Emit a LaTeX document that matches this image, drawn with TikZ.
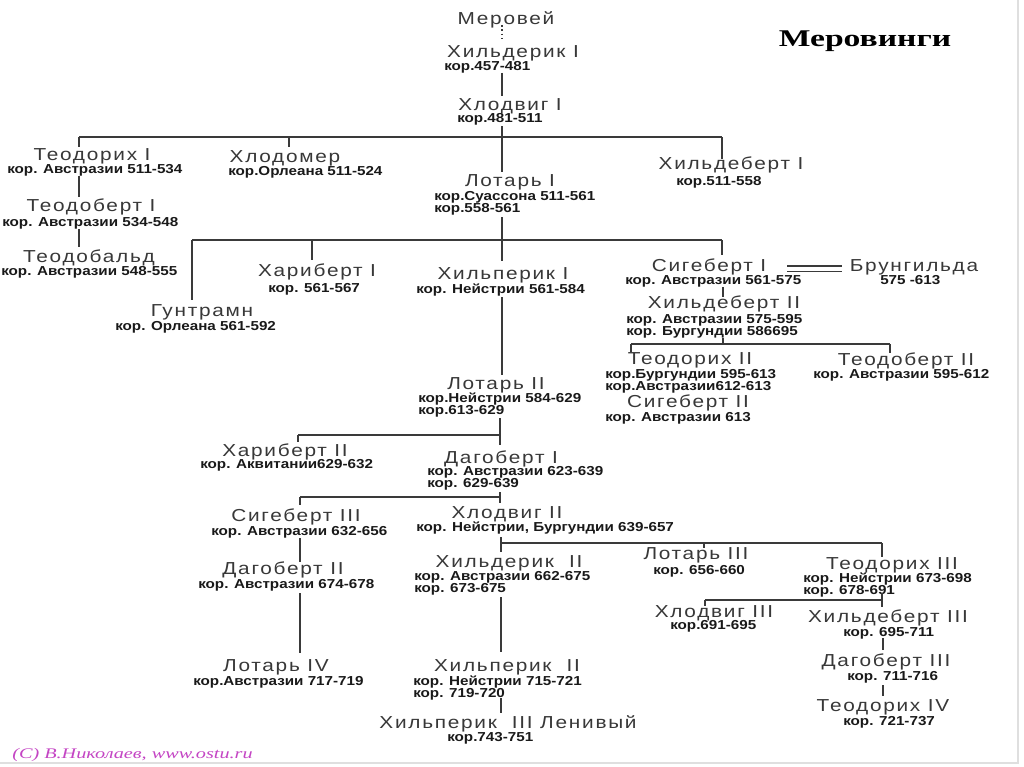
\documentclass[tikz,border=0pt]{standalone}
\usepackage{fontspec}
\setmainfont{Liberation Sans}
\newfontfamily\nmfont[FakeStretch=1.2,LetterSpace=10]{Liberation Sans}
\newfontfamily\smfont[FakeStretch=1.17]{Liberation Sans}
\newfontfamily\ttlfont[FakeStretch=1.4]{Liberation Serif}
\newfontfamily\crfont[FakeStretch=1.38]{Liberation Serif}
\definecolor{namecol}{HTML}{383838}
\definecolor{lncol}{HTML}{3A3A3A}
\definecolor{crcol}{HTML}{C445C4}
\tikzset{
  nm/.style={font=\nmfont\fontsize{13}{13}\selectfont, text=namecol, inner sep=0pt, text height=9.3pt, text depth=0pt},
  inf/.style={font=\smfont\bfseries\fontsize{9.75}{9}\selectfont, text=black!90, inner sep=0pt, align=left, anchor=north west},
  ln/.style={line width=1.4pt, draw=lncol},
  bar/.style={line width=1.15pt, draw=lncol},
  couple/.style={line width=0.8pt, draw=lncol}
}
\begin{document}
\begin{tikzpicture}[x=0.75pt,y=-0.75pt]
\useasboundingbox (0,0) rectangle (1024,767);
\fill[white] (0,0) rectangle (1024,767);
\draw[gray!25, line width=1pt] (1018,0) -- (1018,763) -- (0,763);

% title and credit
\node[font=\ttlfont\bfseries\fontsize{18}{18}\selectfont, inner sep=0pt] (title) at (865,41) {Меровинги};
\node[font=\crfont\itshape\fontsize{11}{11}\selectfont, text=crcol, inner sep=0pt, anchor=west] (credit) at (12,755) {(C) В.Николаев, www.ostu.ru};

% persons
\node[nm] (merovei) at (506,18) {Меровей};
\node[nm] (childeric1) at (513,51) {Хильдерик I};
\node[inf] (childeric1i) at (444,61) {кор.457-481};
\node[nm] (clovis1) at (510,104) {Хлодвиг I};
\node[inf] (clovis1i) at (457,113) {кор.481-511};

\node[nm] (theuderic1) at (92,154) {Теодорих I};
\node[inf] (theuderic1i) at (7,164) {кор. Австразии 511-534};
\node[nm] (chlodomer) at (285,156) {Хлодомер};
\node[inf] (chlodomeri) at (228,166) {кор.Орлеана 511-524};
\node[nm] (chlothar1) at (510,180) {Лотарь I};
\node[inf] (chlothar1i) at (434,191) {кор.Суассона 511-561\\кор.558-561};
\node[nm] (childebert1) at (731,163) {Хильдеберт I};
\node[inf] (childebert1i) at (676,176) {кор.511-558};

\node[nm] (theudebert1) at (91,205) {Теодоберт I};
\node[inf] (theudebert1i) at (2,217) {кор. Австразии 534-548};
\node[nm] (theudebald) at (89,256) {Теодобальд};
\node[inf] (theudebaldi) at (1,266) {кор. Австразии 548-555};

\node[nm] (guntram) at (202,310) {Гунтрамн};
\node[inf] (guntrami) at (115,321) {кор. Орлеана 561-592};
\node[nm] (charibert1) at (317,270) {Хариберт I};
\node[inf] (charibert1i) at (268,283) {кор. 561-567};
\node[nm] (chilperic1) at (503,273) {Хильперик I};
\node[inf] (chilperic1i) at (416,284) {кор. Нейстрии 561-584};
\node[nm] (sigebert1) at (709,265) {Сигеберт I};
\node[inf] (sigebert1i) at (625,275) {кор. Австразии 561-575};
\node[nm] (brunhilda) at (914,265) {Брунгильда};
\node[inf] (brunhildai) at (880,275) {575 -613};

\node[nm] (childebert2) at (724,302) {Хильдеберт II};
\node[inf] (childebert2i) at (626,314) {кор. Австразии 575-595\\кор. Бургундии 586695};
\node[nm] (theuderic2) at (690,358) {Теодорих II};
\node[inf] (theuderic2i) at (605,369) {кор.Бургундии 595-613\\кор.Австразии612-613};
\node[nm] (sigebert2) at (688,401) {Сигеберт II};
\node[inf] (sigebert2i) at (605,412) {кор. Австразии 613};
\node[nm] (theudebert2) at (906,359) {Теодоберт II};
\node[inf] (theudebert2i) at (813,369) {кор. Австразии 595-612};

\node[nm] (chlothar2) at (496,383) {Лотарь II};
\node[inf] (chlothar2i) at (418,393) {кор.Нейстрии 584-629\\кор.613-629};
\node[nm] (charibert2) at (285,450) {Хариберт II};
\node[inf] (charibert2i) at (200,459) {кор. Аквитании629-632};
\node[nm] (dagobert1) at (501,457) {Дагоберт I};
\node[inf] (dagobert1i) at (427,466) {кор. Австразии 623-639\\кор. 629-639};
\node[nm] (sigebert3) at (296,515) {Сигеберт III};
\node[inf] (sigebert3i) at (211,526) {кор. Австразии 632-656};
\node[nm] (clovis2) at (507,512) {Хлодвиг II};
\node[inf] (clovis2i) at (416,522) {кор. Нейстрии, Бургундии 639-657};
\node[nm] (dagobert2) at (283,568) {Дагоберт II};
\node[inf] (dagobert2i) at (198,579) {кор. Австразии 674-678};
\node[nm] (chlothar4) at (276,665) {Лотарь IV};
\node[inf] (chlothar4i) at (193,676) {кор.Австразии 717-719};

\node[nm] (childeric2) at (509,561) {Хильдерик~~II};
\node[inf] (childeric2i) at (414,571) {кор. Австразии 662-675\\кор. 673-675};
\node[nm] (chilperic2) at (507,665) {Хильперик~~II};
\node[inf] (chilperic2i) at (413,676) {кор. Нейстрии 715-721\\кор. 719-720};
\node[nm] (chilperic3) at (508,722) {Хильперик~~III Ленивый};
\node[inf] (chilperic3i) at (447,732) {кор.743-751};

\node[nm] (chlothar3) at (696,553) {Лотарь III};
\node[inf] (chlothar3i) at (653,565) {кор. 656-660};
\node[nm] (theuderic3) at (892,563) {Теодорих III};
\node[inf] (theuderic3i) at (803,573) {кор. Нейстрии 673-698\\кор. 678-691};
\node[nm] (clovis3) at (714,611) {Хлодвиг III};
\node[inf] (clovis3i) at (670,620) {кор.691-695};
\node[nm] (childebert3) at (888,616) {Хильдеберт III};
\node[inf] (childebert3i) at (843,627) {кор. 695-711};
\node[nm] (dagobert3) at (886,660) {Дагоберт III};
\node[inf] (dagobert3i) at (847,671) {кор. 711-716};
\node[nm] (theuderic4) at (883,705) {Теодорих IV};
\node[inf] (theuderic4i) at (843,716) {кор. 721-737};

% junction coordinates
\coordinate (m1) at (502,25);   \coordinate (m2) at (502,42);
\coordinate (c1) at (502,73);   \coordinate (c2) at (502,96);
\coordinate (k1) at (502,126);  \coordinate (k2) at (502,172);
\coordinate (kL) at (79,137);   \coordinate (kR) at (722,137);
\coordinate (kT1) at (79,147);  \coordinate (kH) at (289,137); \coordinate (kH2) at (289,147);
\coordinate (kC) at (722,159);
\coordinate (t1) at (79,176);   \coordinate (t2) at (79,197);
\coordinate (t3) at (79,229);   \coordinate (t4) at (79,247);
\coordinate (l1) at (502,217);  \coordinate (l2) at (502,261);
\coordinate (lL) at (192,240);  \coordinate (lR) at (722,240);
\coordinate (lG) at (192,300);  \coordinate (lHa) at (312,240); \coordinate (lHb) at (312,260);
\coordinate (lS) at (722,255);
\coordinate (h1) at (502,297);  \coordinate (h2) at (502,375);
\coordinate (b1) at (787,268.5); \coordinate (b2) at (842,268.5);
\coordinate (s1) at (723,287);  \coordinate (s2) at (723,297);
\coordinate (s3) at (723,338);  \coordinate (s4) at (723,344);
\coordinate (sL) at (631,344);  \coordinate (sR) at (890,344);
\coordinate (sL2) at (631,352); \coordinate (sR2) at (890,353);
\coordinate (p1) at (500,418);  \coordinate (p2) at (500,445);
\coordinate (pJ) at (500,435);  \coordinate (pL) at (298,435); \coordinate (pL2) at (298,442);
\coordinate (d1) at (500,492);  \coordinate (d2) at (500,503);
\coordinate (dJ) at (500,497);  \coordinate (dL) at (300,497); \coordinate (dL2) at (300,505);
\coordinate (g1) at (300,538);  \coordinate (g2) at (300,562);
\coordinate (g3) at (300,593);  \coordinate (g4) at (300,653);
\coordinate (v1) at (501,537);  \coordinate (v2) at (501,552);
\coordinate (vJ) at (501,543);  \coordinate (vR) at (882,543);
\coordinate (vT) at (704,543);  \coordinate (vT2) at (704,548); \coordinate (vR2) at (882,557);
\coordinate (e1) at (501,597);  \coordinate (e2) at (501,652);
\coordinate (e3) at (501,698);  \coordinate (e4) at (501,713);
\coordinate (r1) at (882,593);  \coordinate (r2) at (882,607);
\coordinate (rJ) at (882,600);  \coordinate (rL) at (705,600); \coordinate (rL2) at (705,606);
\coordinate (q1) at (883,638);  \coordinate (q2) at (883,650);
\coordinate (q3) at (883,685);  \coordinate (q4) at (883,696);

% connectors
\draw[lncol, line width=1.2pt, dotted] (m1) -- (m2);
\draw[ln] (c1) -- (c2);
\draw[ln] (k1) -- (k2);
\draw[bar] (kL) -- (kR);
\draw[ln] (kL) -- (kT1);
\draw[ln] (kH) -- (kH2);
\draw[ln] (kR) -- (kC);
\draw[ln] (t1) -- (t2);
\draw[ln] (t3) -- (t4);
\draw[ln] (l1) -- (l2);
\draw[bar] (lL) -- (lR);
\draw[ln] (lL) -- (lG);
\draw[ln] (lHa) -- (lHb);
\draw[ln] (lR) -- (lS);
\draw[ln] (h1) -- (h2);
\draw[couple] ([yshift=-1.9pt]b1) -- ([yshift=-1.9pt]b2);
\draw[couple] ([yshift=1.9pt]b1) -- ([yshift=1.9pt]b2);
\draw[ln] (s1) -- (s2);
\draw[ln] (s3) -- (s4);
\draw[bar] (sL) -- (sR);
\draw[ln] (sL) -- (sL2);
\draw[ln] (sR) -- (sR2);
\draw[ln] (p1) -- (p2);
\draw[bar] (pL) -- (pJ);
\draw[ln] (pL) -- (pL2);
\draw[ln] (d1) -- (d2);
\draw[bar] (dL) -- (dJ);
\draw[ln] (dL) -- (dL2);
\draw[ln] (g1) -- (g2);
\draw[ln] (g3) -- (g4);
\draw[ln] (v1) -- (v2);
\draw[bar] (vJ) -- (vR);
\draw[ln] (vT) -- (vT2);
\draw[ln] (vR) -- (vR2);
\draw[ln] (e1) -- (e2);
\draw[ln] (e3) -- (e4);
\draw[ln] (r1) -- (r2);
\draw[bar] (rL) -- (rJ);
\draw[ln] (rL) -- (rL2);
\draw[ln] (q1) -- (q2);
\draw[ln] (q3) -- (q4);
\end{tikzpicture}
\end{document}
